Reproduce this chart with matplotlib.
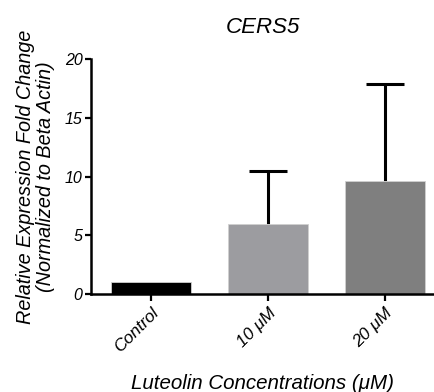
import numpy as np
import matplotlib
matplotlib.use('Agg')
import matplotlib.pyplot as plt

groups = ['Control', '10 \u03bcM', '20 \u03bcM']
means = [1.05, 6.0, 9.6]
errors = [0.0, 4.45, 8.3]
colors = ['#000000', '#9c9ca0', '#7f7f7f']

plt.rcParams['font.family'] = ['Liberation Sans', 'DejaVu Sans']
plt.rcParams['font.style'] = 'italic'

fig = plt.figure(figsize=(4.35, 3.92), dpi=100)
ax = fig.add_axes([0.209, 0.25, 0.791, 0.599])

x = np.arange(len(groups))
ax.bar(x, means, width=0.69, color=colors, edgecolor='#d0d0d0', linewidth=0.6, zorder=2)

# upper error bars only, control has none
has_err = np.array(errors) > 0
ex = x[has_err]
ey = np.array(means)[has_err]
ee = np.array(errors)[has_err]
eb = ax.errorbar(ex, ey, yerr=[np.zeros(len(ee)), ee], fmt='none',
                 ecolor='black', elinewidth=2.2, capsize=14, capthick=2.2, zorder=1)
eb[1][0].set_visible(False)

ax.set_xlim(-0.513, 2.427)
ax.set_ylim(0, 20)
ax.set_yticks([0, 5, 10, 15, 20])
ax.set_xticks(x)
ax.set_xticklabels(groups, rotation=45, ha='right', rotation_mode='anchor', fontsize=12.5)
ax.tick_params(axis='y', labelsize=11.5, width=1.6, length=4, pad=2)
ax.tick_params(axis='x', width=1.6, length=5, pad=3)

for side in ['top', 'right']:
    ax.spines[side].set_visible(False)
for side in ['left', 'bottom']:
    ax.spines[side].set_linewidth(1.8)

ax.set_title('CERS5', fontsize=16, pad=19)
ax.set_ylabel('Relative Expression Fold Change\n(Normalized to Beta Actin)',
              fontsize=14.3, linespacing=1.1)
ax.yaxis.set_label_coords(-0.103, 0.5)
ax.set_xlabel('Luteolin Concentrations (\u03bcM)', fontsize=14.8)
ax.xaxis.set_label_coords(0.5, -0.34)

fig.savefig('out.png', dpi=100)
